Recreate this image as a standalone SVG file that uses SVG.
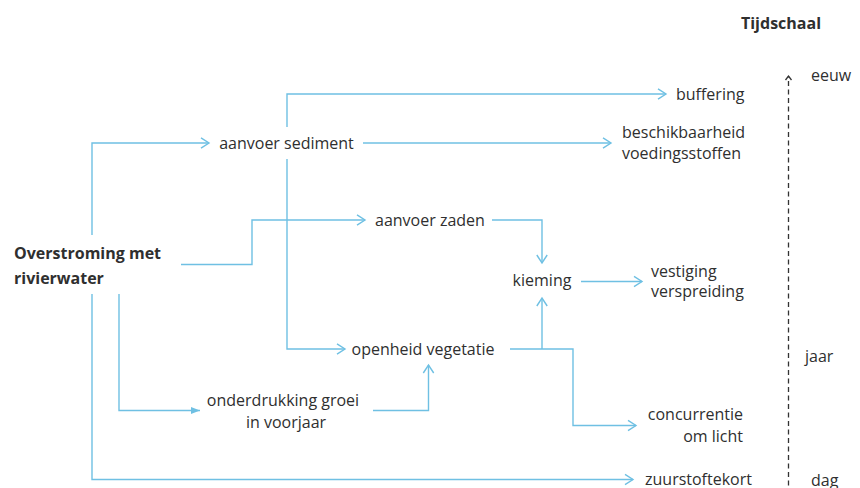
<svg xmlns="http://www.w3.org/2000/svg" width="860" height="488" viewBox="0 0 860 488">
<defs>
<style>
.t{font-family:"Open Sans","Noto Sans",sans-serif;font-size:16px;fill:#2f2f2f}
.b{font-weight:bold}
.c{fill:none;stroke:#6fc0e3;stroke-width:1.4}
.d{fill:none;stroke:#333;stroke-width:1.3;stroke-dasharray:5,3.5}
</style>
<marker id="a" markerUnits="userSpaceOnUse" markerWidth="14" markerHeight="14" refX="10" refY="7" orient="auto">
<path d="M2,1.8 L10,7 L2,12.2" fill="none" stroke="#6fc0e3" stroke-width="1.4"/>
</marker>
<marker id="f" markerUnits="userSpaceOnUse" markerWidth="14" markerHeight="14" refX="10" refY="7" orient="auto">
<path d="M1,3.5 L10,7 L1,10.5 Z" fill="#6fc0e3"/>
</marker>
<marker id="k" markerUnits="userSpaceOnUse" markerWidth="12" markerHeight="12" refX="6" refY="6" orient="auto">
<path d="M2,3 L6,6 L2,9" fill="none" stroke="#333" stroke-width="1.3"/>
</marker>
</defs>
<g id="connectors">
<path class="c" d="M92,235 V143 H209" marker-end="url(#a)"/>
<path class="c" d="M363,143 H611" marker-end="url(#a)"/>
<path class="c" d="M287,127 V94 H666" marker-end="url(#a)"/>
<path class="c" d="M287,159 V349 H345" marker-end="url(#a)"/>
<path class="c" d="M181,264.5 H252 V220 H365" marker-end="url(#a)"/>
<path class="c" d="M492,220 H542 V263" marker-end="url(#a)"/>
<path class="c" d="M581,281.5 H642" marker-end="url(#a)"/>
<path class="c" d="M510,349 H573 V425.5 H636" marker-end="url(#a)"/>
<path class="c" d="M542,349 V298" marker-end="url(#a)"/>
<path class="c" d="M119,294 V410.5 H200" marker-end="url(#f)"/>
<path class="c" d="M373,410.5 H428.5 V365" marker-end="url(#a)"/>
<path class="c" d="M92,294 V479.5 H633" marker-end="url(#a)"/>
<path class="d" d="M788.5,494 V76" marker-end="url(#k)" marker-start="url(#k)"/>
</g>
<g id="n-overstroming"><text class="t b" x="14" y="259">Overstroming met</text><text class="t b" x="14" y="284">rivierwater</text></g>
<g id="n-sediment"><text class="t" x="286.5" y="149" text-anchor="middle">aanvoer sediment</text></g>
<g id="n-buffering"><text class="t" x="676" y="99.5">buffering</text></g>
<g id="n-beschikbaarheid"><text class="t" x="622" y="138">beschikbaarheid</text><text class="t" x="622" y="159">voedingsstoffen</text></g>
<g id="n-zaden"><text class="t" x="375" y="225.5">aanvoer zaden</text></g>
<g id="n-kieming"><text class="t" x="542" y="286" text-anchor="middle">kieming</text></g>
<g id="n-vestiging"><text class="t" x="651" y="277">vestiging</text><text class="t" x="651" y="297">verspreiding</text></g>
<g id="n-openheid"><text class="t" x="423" y="354.5" text-anchor="middle">openheid vegetatie</text></g>
<g id="n-onderdrukking"><text class="t" x="283" y="405.5" text-anchor="middle">onderdrukking groei</text><text class="t" x="286" y="427.5" text-anchor="middle">in voorjaar</text></g>
<g id="n-concurrentie"><text class="t" x="743" y="419.5" text-anchor="end">concurrentie</text><text class="t" x="743" y="442" text-anchor="end">om licht</text></g>
<g id="n-zuurstof"><text class="t" x="645" y="485">zuurstoftekort</text></g>
<g id="timescale">
<text class="t b" x="781" y="29" text-anchor="middle">Tijdschaal</text>
<text class="t" x="811" y="81">eeuw</text>
<text class="t" x="805" y="362">jaar</text>
<text class="t" x="811" y="485.5">dag</text>
</g>
</svg>
